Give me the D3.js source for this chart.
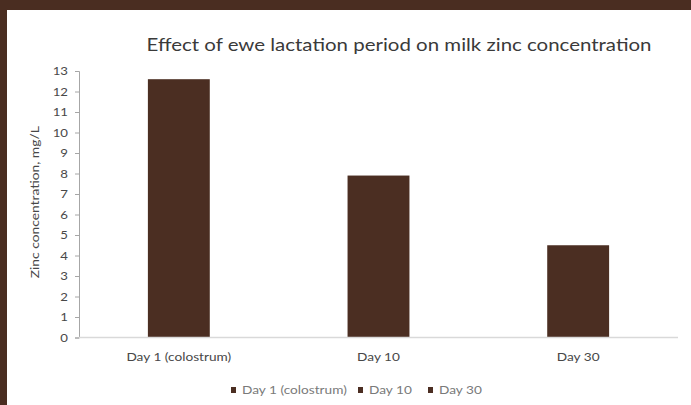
<!DOCTYPE html>
<html>
<head>
<meta charset="utf-8">
<script src="https://cdn.jsdelivr.net/npm/d3@7"></script>
<style>
  body { margin: 0; background: #4a2d21; }
  text { font-family: Lato, "Open Sans", sans-serif; }
</style>
</head>
<body>
<script>
const width = 691;
const height = 405;

// chart data
const categories = ["Day 1 (colostrum)", "Day 10", "Day 30"];
const values = [12.6, 7.9, 4.5];
const yTicks = [0, 1, 2, 3, 4, 5, 6, 7, 8, 9, 10, 11, 12, 13];

const barColor = "#4b2e22";
const textColor = "#484848";

// widen text a bit, the original font is blurry and wide
function widen(sel, k) {
  sel.each(function () {
    const w = this.getComputedTextLength();
    d3.select(this)
      .attr("textLength", w * k)
      .attr("lengthAdjust", "spacingAndGlyphs");
  });
}

const svg = d3.select("body")
  .append("svg")
  .attr("width", width)
  .attr("height", height);

// brown frame + white panel
svg.append("rect")
  .attr("width", width).attr("height", height)
  .attr("fill", "#4a2d21");
svg.append("rect")
  .attr("x", 7).attr("y", 10)
  .attr("width", width - 7).attr("height", height - 10)
  .attr("fill", "#ffffff");

const margin = { left: 79, right: 13, top: 71, bottom: 67 };

const x = d3.scaleBand()
  .domain(categories)
  .range([margin.left, width - margin.right])
  .paddingInner(0.69)
  .paddingOuter(0.345);

const y = d3.scaleLinear()
  .domain([0, 13])
  .range([height - margin.bottom - 0.5, margin.top]);

// title
svg.append("text")
  .attr("x", 399)
  .attr("y", 51)
  .attr("text-anchor", "middle")
  .attr("fill", "#3a3a3a")
  .style("font-size", "17px")
  .attr("textLength", 505)
  .attr("lengthAdjust", "spacingAndGlyphs")
  .text("Effect of ewe lactation period on milk zinc concentration");

// y axis
const yAxis = svg.append("g")
  .attr("transform", `translate(${margin.left},0)`)
  .call(d3.axisLeft(y).tickValues(yTicks).tickSize(4).tickSizeOuter(4));
yAxis.select(".domain").attr("stroke", "#a6a6a6");
yAxis.selectAll(".tick line").attr("stroke", "#a6a6a6");
yAxis.selectAll(".tick text")
  .attr("fill", textColor)
  .attr("x", -11)
  .style("font-size", "11px")
  .call(widen, 1.2);

// y label
svg.append("text")
  .attr("transform", `translate(39,${(y(0) + y(13)) / 2 - 2}) rotate(-90)`)
  .attr("text-anchor", "middle")
  .attr("fill", textColor)
  .style("font-size", "10.5px")
  .attr("textLength", 152)
  .attr("lengthAdjust", "spacingAndGlyphs")
  .text("Zinc concentration, mg/L");

// bars
svg.append("g")
  .selectAll("rect")
  .data(values)
  .join("rect")
  .attr("x", (d, i) => x(categories[i]))
  .attr("y", (d) => y(d))
  .attr("width", x.bandwidth())
  .attr("height", (d) => y(0) - y(d))
  .attr("fill", barColor);

// x baseline
svg.append("line")
  .attr("x1", margin.left).attr("x2", width - margin.right)
  .attr("y1", y(0)).attr("y2", y(0))
  .attr("stroke", "#d9d9d9")
  .attr("stroke-width", 1.5);

// category labels
svg.append("g")
  .selectAll("text")
  .data(categories)
  .join("text")
  .attr("x", (d) => x(d) + x.bandwidth() / 2)
  .attr("y", 361)
  .attr("text-anchor", "middle")
  .attr("fill", textColor)
  .style("font-size", "10.5px")
  .text((d) => d)
  .call(widen, 1.3);

// legend
const legendX = [231, 358, 428];
const legend = svg.append("g")
  .selectAll("g")
  .data(categories)
  .join("g")
  .attr("transform", (d, i) => `translate(${legendX[i]},394)`);
legend.append("rect")
  .attr("x", 0).attr("y", -7)
  .attr("width", 5).attr("height", 6)
  .attr("fill", barColor);
legend.append("text")
  .attr("x", 11)
  .attr("y", 0)
  .attr("fill", "#7a7a7a")
  .style("font-size", "10.5px")
  .text((d) => d)
  .call(widen, 1.3);
</script>
</body>
</html>
